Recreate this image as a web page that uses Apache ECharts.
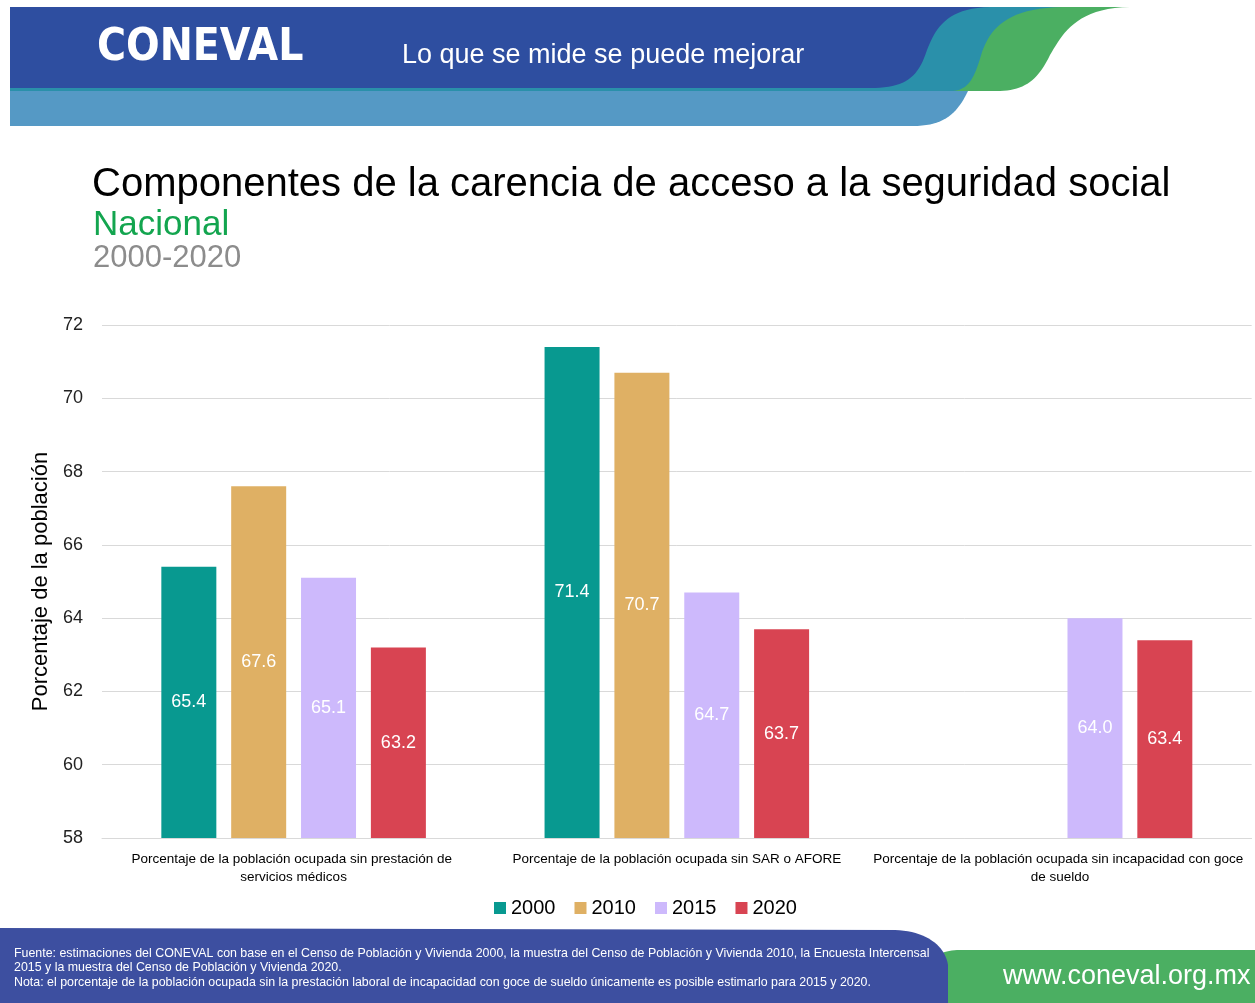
<!DOCTYPE html>
<html>
<head>
<meta charset="utf-8">
<script src="https://cdn.jsdelivr.net/npm/echarts@6/dist/echarts.min.js"></script>
<style>
  html, body { margin: 0; padding: 0; background: #fff; }
  #main { width: 1255px; height: 1003px; }
</style>
</head>
<body>
<div id="main"></div>
<script>
// datos
var categorias = [
  'Porcentaje de la población ocupada sin prestación de servicios médicos',
  'Porcentaje de la población ocupada sin SAR o AFORE',
  'Porcentaje de la población ocupada sin incapacidad con goce de sueldo'
];
var anios = ['2000', '2010', '2015', '2020'];
var v2000 = [65.4, 71.4, null];
var v2010 = [67.6, 70.7, null];
var v2015 = [65.1, 64.7, 64.0];
var v2020 = [63.2, 63.7, 63.4];
var colores = ['#089990', '#DFB064', '#CDB9FC', '#D84452'];

var chart = echarts.init(document.getElementById('main'));

// forma: puntos fijos + tramos bezier [p0, c1, c2, p1]
function forma(partes) {
  var pts = [];
  partes.forEach(function (p) {
    if (p.length === 2) { pts.push(p); return; }
    var a = p[0], b = p[1], c = p[2], d = p[3];
    for (var i = 0; i <= 20; i++) {
      var t = i / 20, u = 1 - t;
      pts.push([
        u*u*u*a[0] + 3*u*u*t*b[0] + 3*u*t*t*c[0] + t*t*t*d[0],
        u*u*u*a[1] + 3*u*u*t*b[1] + 3*u*t*t*c[1] + t*t*t*d[1]
      ]);
    }
  });
  return pts;
}

function serie(nombre, datos, color) {
  return {
    name: nombre,
    type: 'bar',
    data: datos,
    barWidth: 55,
    barGap: '27%',
    itemStyle: { color: color },
    label: {
      show: true,
      position: 'inside',
      color: '#fff',
      fontSize: 18,
      fontFamily: 'Liberation Sans',
      formatter: function (p) { return p.value == null ? '' : p.value.toFixed(1); }
    }
  };
}

var option = {
  backgroundColor: '#fff',
  animation: false,
  textStyle: { fontFamily: 'Liberation Sans' },
  graphic: [
    // encabezado
    { type: 'polygon', silent: true, shape: { points: forma([[10, 7], [[1130, 7], [1075, 8], [1062, 35], [1050, 55]], [[1050, 55], [1038, 80], [1025, 90], [1000, 91]], [10, 91]]) }, style: { fill: '#4BAF62' } },
    { type: 'polygon', silent: true, shape: { points: forma([[10, 7], [[1063, 7], [1005, 8], [990, 30], [982, 52]], [[982, 52], [974, 80], [968, 91], [950, 91]], [10, 91]]) }, style: { fill: '#2A90AA' } },
    { type: 'polygon', silent: true, shape: { points: forma([[10, 7], [[990, 7], [945, 8], [935, 30], [927, 50]], [[927, 50], [918, 78], [905, 88], [870, 88]], [10, 88]]) }, style: { fill: '#2E4EA0' } },
    { type: 'polygon', silent: true, shape: { points: forma([[10, 91], [[968, 91], [958, 112], [945, 126], [913, 126]], [10, 126]]) }, style: { fill: '#5599C5' } },
    { type: 'text', left: 97, top: 27, silent: true, style: { text: 'CONEVAL', fill: '#fff', font: '900 44px "DejaVu Sans Condensed"' } },
    { type: 'text', left: 402, top: 42, silent: true, style: { text: 'Lo que se mide se puede mejorar', fill: '#fff', font: '27px "Liberation Sans"' } },
    // títulos
    { type: 'text', left: 92, top: 165, silent: true, style: { text: 'Componentes de la carencia de acceso a la seguridad social', fill: '#000', font: '40px "Liberation Sans"' } },
    { type: 'text', left: 93, top: 208, silent: true, style: { text: 'Nacional', fill: '#13A54F', font: '35px "Liberation Sans"' } },
    { type: 'text', left: 93, top: 243, silent: true, style: { text: '2000-2020', fill: '#8C8C8C', font: '31px "Liberation Sans"' } },
    // pie
    { type: 'polygon', silent: true, shape: { points: forma([[930, 1003], [[930, 972], [930, 958], [940, 950], [960, 950]], [1255, 950], [1255, 1003]]) }, style: { fill: '#4BAF62' } },
    { type: 'polygon', silent: true, shape: { points: forma([[0, 1003], [0, 928], [[895, 930], [925, 931], [945, 945], [948, 965]], [948, 1003]]) }, style: { fill: '#3D4FA0' } },
    { type: 'text', left: 14, top: 946, silent: true, style: { text: 'Fuente: estimaciones del CONEVAL con base en el Censo de Población y Vivienda 2000, la muestra del Censo de Población y Vivienda 2010, la Encuesta Intercensal\n2015 y la muestra del Censo de Población y Vivienda 2020.\nNota: el porcentaje de la población ocupada sin la prestación laboral de incapacidad con goce de sueldo únicamente es posible estimarlo para 2015 y 2020.', fill: '#fff', font: '12.4px "Liberation Sans"', lineHeight: 14.5 } },
    { type: 'text', left: 1003, top: 963, silent: true, style: { text: 'www.coneval.org.mx', fill: '#fff', font: '27px "Liberation Sans"' } }
  ],
  legend: {
    data: anios,
    left: 489,
    top: 893,
    itemWidth: 12,
    itemHeight: 12,
    itemGap: 19,
    icon: 'rect',
    textStyle: { fontSize: 20, color: '#000', fontFamily: 'Liberation Sans' }
  },
  grid: { left: 102, right: 3, top: 325, bottom: 165, containLabel: false },
  xAxis: {
    type: 'category',
    data: categorias,
    axisLine: { lineStyle: { color: '#D9D9D9' } },
    axisTick: { show: false },
    axisLabel: {
      interval: 0,
      margin: 12,
      width: 384,
      overflow: 'break',
      color: '#000',
      fontSize: 13.5,
      lineHeight: 18,
      fontFamily: 'Liberation Sans'
    }
  },
  yAxis: {
    type: 'value',
    min: 58,
    max: 72,
    interval: 2,
    name: 'Porcentaje de la población',
    nameLocation: 'middle',
    nameGap: 46,
    nameTextStyle: { fontSize: 22, color: '#000', fontFamily: 'Liberation Sans' },
    axisLine: { show: false },
    axisTick: { show: false },
    axisLabel: { fontSize: 18, color: '#222', margin: 19 },
    splitLine: { lineStyle: { color: '#D9D9D9' } }
  },
  series: [
    serie(anios[0], v2000, colores[0]),
    serie(anios[1], v2010, colores[1]),
    serie(anios[2], v2015, colores[2]),
    serie(anios[3], v2020, colores[3])
  ]
};

chart.setOption(option);
</script>
</body>
</html>
